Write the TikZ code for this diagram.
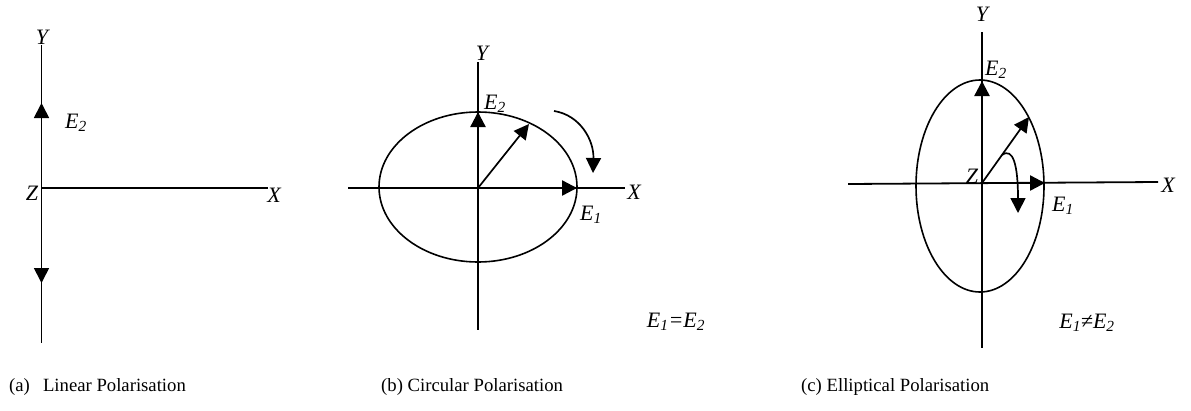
\documentclass[tikz,border=0pt]{standalone}
\usepackage{fontspec}
\setmainfont{Liberation Serif}
\usetikzlibrary{arrows.meta}
\begin{document}
\begin{tikzpicture}[x=1pt,y=-1pt,
  axis/.style={line width=1.8pt},
  ell/.style={line width=1.6pt},
  vec/.style={line width=2.4pt,-{Triangle[length=15pt,width=15pt]}},
  rot/.style={line width=1.7pt,-{Triangle[length=15pt,width=15pt]}},
  lab/.style={inner sep=0pt,font=\fontsize{22}{25}\selectfont\itshape},
  captext/.style={inner sep=0pt,anchor=base west,font=\fontsize{18.7}{22}\selectfont}]
\useasboundingbox (0,0) rectangle (1191,410);
% ---------- (a) ----------
\coordinate (aO) at (41.5,188);
\coordinate (aT) at (41.5,45);
\coordinate (aB) at (41.5,343);
\coordinate (aR) at (268,188);
\coordinate (aU) at (41.5,103);
\coordinate (aD) at (41.5,283);
\draw[axis] (aT) -- (aB);
\draw[axis] (aO) -- (aR);
\draw[rot] (aO) -- (aU);
\draw[rot] (aO) -- (aD);
\node[lab] (aY) at (42,37) {Y};
\node[lab] (aZ) at (32,193) {Z};
\node[lab] (aX) at (274,195) {X};
\node[lab] (aE) at (76,123) {E\textsubscript{2}};
% ---------- (b) ----------
\coordinate (bO) at (478,188);
\coordinate (bT) at (478,62);
\coordinate (bB) at (478,330);
\coordinate (bL) at (348,188);
\coordinate (bR) at (625,188);
\coordinate (bE2) at (478,112);
\coordinate (bE1) at (577,188);
\coordinate (bD) at (529,124);
\coordinate (bc1) at (554,111);
\coordinate (bc2) at (593,173);
\draw[axis] (bT) -- (bB);
\draw[axis] (bL) -- (bR);
\draw[ell] (478,187) ellipse [x radius=99, y radius=75];
\draw[vec] (bO) -- (bE2);
\draw[vec] (bO) -- (bE1);
\draw[rot] (bO) -- (bD);
\draw[rot] (bc1) .. controls (580,115) and (594,140) .. (bc2);
\node[lab] (bY) at (482,53) {Y};
\node[lab] (bX) at (634,192) {X};
\node[lab] (bE2l) at (495,104) {E\textsubscript{2}};
\node[lab] (bE1l) at (591,215) {E\textsubscript{1}};
\node[lab] (beq) at (676,322) {E\textsubscript{1}=E\textsubscript{2}};
% ---------- (c) ----------
\coordinate (cO) at (982,183);
\coordinate (cT) at (982,32);
\coordinate (cB) at (982,348);
\coordinate (cL) at (848,184);
\coordinate (cR) at (1158,182);
\coordinate (cE2) at (982,81);
\coordinate (cE1) at (1045,183);
\coordinate (cD) at (1029,117);
\coordinate (cc1) at (1002,155);
\coordinate (cc2) at (1018,213);
\draw[axis] (cT) -- (cB);
\draw[axis] (cL) -- (cR);
\draw[ell] (980,186) ellipse [x radius=64, y radius=106];
\draw[vec] (cO) -- (cE2);
\draw[vec] (cO) -- (cE1);
\draw[rot] (cO) -- (cD);
\draw[rot] (cc1) .. controls (1013,147) and (1018,165) .. (cc2);
\node[lab] (cY) at (982,14) {Y};
\node[lab] (cZ) at (972,176) {Z};
\node[lab] (cX) at (1168,185) {X};
\node[lab] (cE2l) at (996,70) {E\textsubscript{2}};
\node[lab] (cE1l) at (1063,206) {E\textsubscript{1}};
\node[lab] (cne) at (1087,323) {E\textsubscript{1}≠E\textsubscript{2}};
% ---------- captions ----------
\node[captext] (capa) at (9,391) {(a)\hspace{0.7em}Linear Polarisation};
\node[captext] (capb) at (381,391) {(b) Circular Polarisation};
\node[captext] (capc) at (801,391) {(c) Elliptical Polarisation};
\end{tikzpicture}
\end{document}
